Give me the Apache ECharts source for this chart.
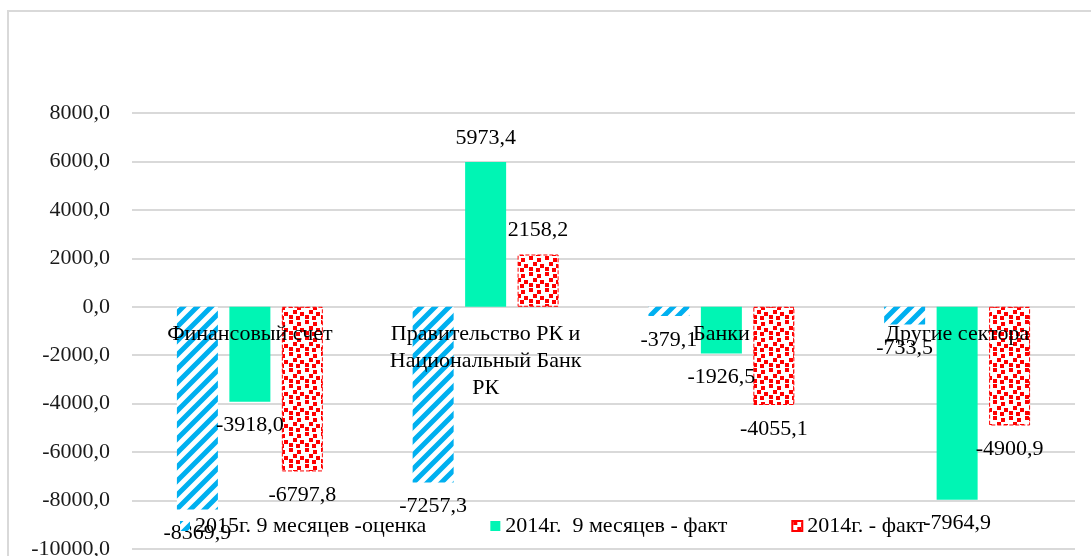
<!DOCTYPE html>
<html>
<head>
<meta charset="utf-8">
<script src="https://cdn.jsdelivr.net/npm/echarts@6/dist/echarts.min.js"></script>
<style>
  html, body { margin: 0; padding: 0; background: #fff; }
  #frame {
    position: absolute; left: 7px; top: 10px; width: 1100px; height: 560px;
    border-left: 2px solid #d9d9d9; border-top: 2px solid #d9d9d9;
    pointer-events: none;
  }
  #chart { position: absolute; left: 0; top: 0; width: 1091px; height: 556px; }
</style>
</head>
<body>
<div id="frame"></div>
<div id="chart"></div>
<script>
// категории (подписи оси X)
const categories = ['Финансовый счет', 'Правительство РК и\nНациональный Банк\nРК', 'Банки', 'Другие сектора']

const seriesNames = ['2015г. 9 месяцев -оценка', '2014г.  9 месяцев - факт', '2014г. - факт']

const estimate2015 = [-8369.9, -7257.3, -379.1, -733.5]
const fact2014m9 = [-3918.0, 5973.4, -1926.5, -7964.9]
const fact2014 = [-6797.8, 2158.2, -4055.1, -4900.9]

const yTicks = { min: -10000, max: 8000, interval: 2000 }

const FONT = 'Liberation Serif'
const FS = 22

const GRID = { left: 132, right: 16, top: 113, bottom: 7 }
const plotH = 556 - GRID.top - GRID.bottom
// ось категорий рисуем на уровне нуля
const zeroOffset = -plotH * (0 - yTicks.min) / (yTicks.max - yTicks.min)

// штриховка для 2015 (широкая диагональ)
function stripePattern() {
  const s = 14
  const c = document.createElement('canvas')
  c.width = s; c.height = s
  const g = c.getContext('2d')
  g.fillStyle = '#fff'
  g.fillRect(0, 0, s, s)
  g.strokeStyle = '#00b0f0'
  g.lineWidth = 5
  g.beginPath()
  for (let k = -1; k <= 1; k++) {
    g.moveTo(k * s - 2, s + 2)
    g.lineTo(k * s + s + 2, -2)
  }
  g.stroke()
  return { image: c, repeat: 'repeat' }
}

// конфетти для 2014
function confettiPattern() {
  const s = 16
  const c = document.createElement('canvas')
  c.width = s; c.height = s
  const g = c.getContext('2d')
  g.fillStyle = '#fff'
  g.fillRect(0, 0, s, s)
  g.fillStyle = '#ff0000'
  const pts = [[1, 0], [9, 2], [5, 6], [12, 8], [1, 11], [8, 12]]
  pts.forEach(p => g.fillRect(p[0], p[1], 4, 4))
  return { image: c, repeat: 'repeat' }
}

function fmt(v) {
  return v.toFixed(1).replace('.', ',')
}

function withLabels(arr) {
  return arr.map(v => ({
    value: v,
    label: { position: v < 0 ? 'bottom' : 'top' }
  }))
}

const styles = [
  { color: stripePattern() },
  { color: '#00f5b4' },
  { color: confettiPattern(), borderColor: '#ff0000', borderWidth: 1, borderType: 'dashed' }
]
const values = [estimate2015, fact2014m9, fact2014]

const chart = echarts.init(document.getElementById('chart'), null, { renderer: 'canvas' })

chart.setOption({
  backgroundColor: 'transparent',
  animation: false,
  textStyle: { fontFamily: FONT },
  grid: { ...GRID, containLabel: false, outerBoundsMode: 'none' },
  legend: {
    data: seriesNames,
    left: 180,
    top: 515,
    padding: 0,
    itemWidth: 10,
    itemHeight: 10,
    itemGap: 64,
    icon: 'rect',
    textStyle: { color: '#000', fontSize: FS, fontFamily: FONT }
  },
  xAxis: {
    type: 'category',
    data: categories,
    z: 10,
    offset: zeroOffset,
    axisLine: { show: false, onZero: false },
    axisTick: { show: false },
    axisLabel: {
      interval: 0,
      margin: 14,
      color: '#000',
      fontSize: FS,
      lineHeight: 27,
      fontFamily: FONT
    }
  },
  yAxis: {
    type: 'value',
    min: yTicks.min,
    max: yTicks.max,
    interval: yTicks.interval,
    axisLine: { show: false },
    axisTick: { show: false },
    axisLabel: {
      margin: 22,
      color: '#1a1a1a',
      fontSize: FS,
      fontFamily: FONT,
      formatter: fmt
    },
    splitLine: { lineStyle: { color: '#d9d9d9', width: 2 } }
  },
  series: seriesNames.map((name, i) => ({
    name,
    type: 'bar',
    barWidth: 41,
    barGap: '28%',
    data: withLabels(values[i]),
    itemStyle: styles[i],
    label: {
      show: true,
      distance: 13,
      color: '#000',
      fontSize: FS,
      fontFamily: FONT,
      formatter: p => fmt(p.value)
    }
  }))
})
</script>
</body>
</html>
